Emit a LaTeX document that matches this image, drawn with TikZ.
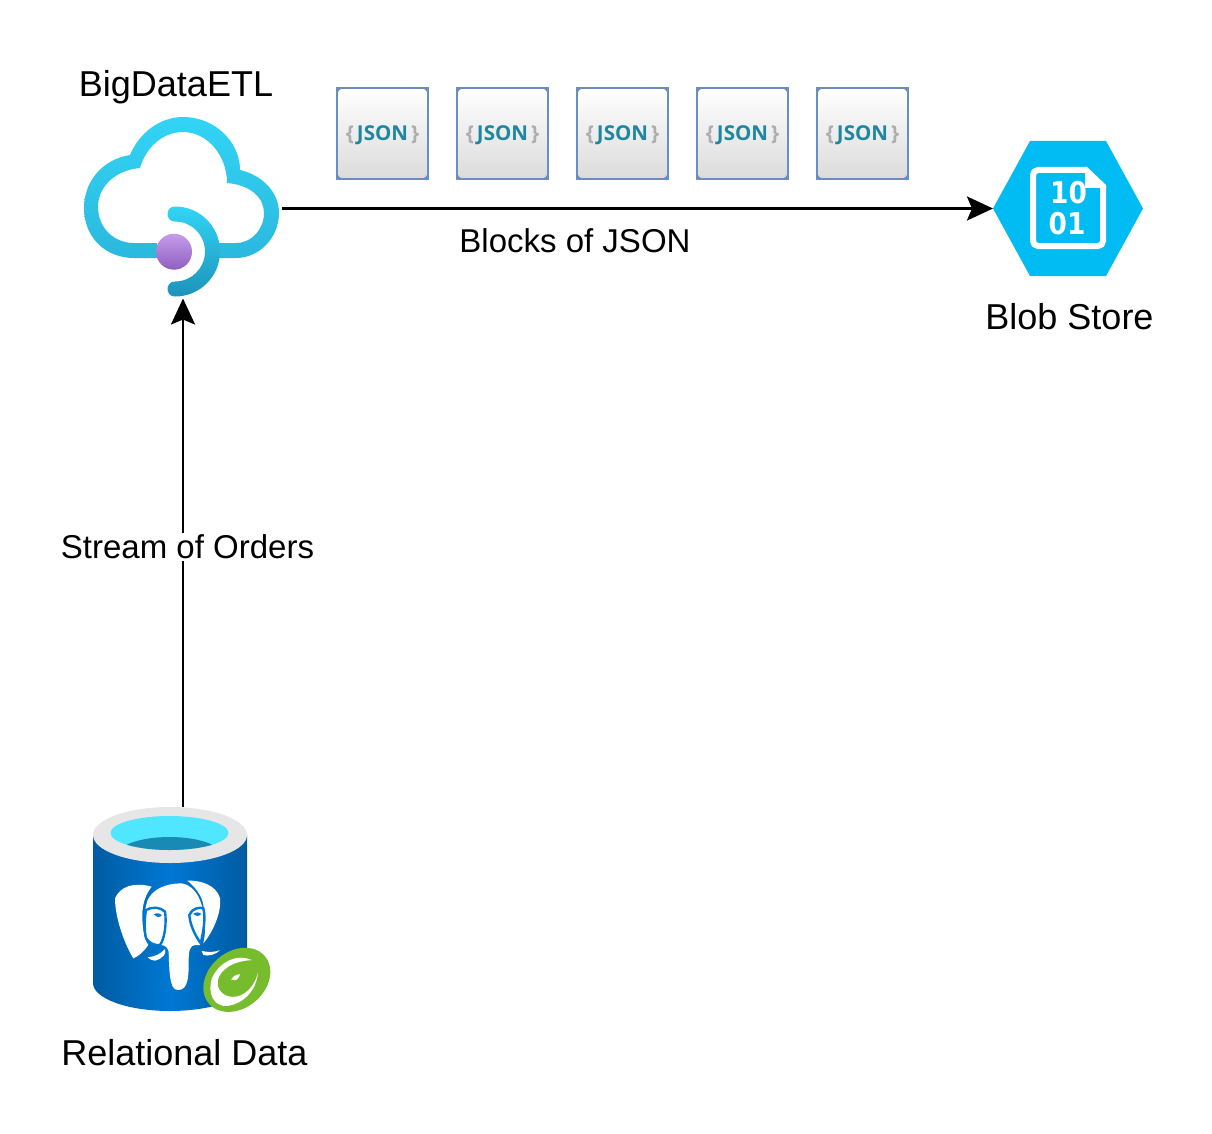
\documentclass[tikz,border=0pt]{standalone}
\usepackage{fontspec}
\setmainfont{Liberation Sans}
\newfontfamily\jsonfont{Open Sans}
\newfontfamily\bitsfont[FakeStretch=0.88]{DejaVu Sans}
\usepackage{xcolor}
\usetikzlibrary{positioning,arrows.meta}
\definecolor{cloudtop}{HTML}{32D4F5}
\definecolor{cloudmid}{HTML}{2BB8DE}
\definecolor{cloudend}{HTML}{1C93BA}
\definecolor{dotlight}{HTML}{C69DEB}
\definecolor{dotdark}{HTML}{8E5FBF}
\definecolor{jsonedge}{HTML}{6C8EBF}
\definecolor{jsonteal}{HTML}{1E86A0}
\definecolor{blobblue}{HTML}{00BCF2}
\definecolor{dbedge}{HTML}{005BA1}
\definecolor{dbmid}{HTML}{0078D4}
\definecolor{dbrim}{HTML}{E6E6E6}
\definecolor{dbwater}{HTML}{50E6FF}
\definecolor{dbdeep}{HTML}{198AB3}
\definecolor{badgegreen}{HTML}{76BC2D}
\tikzset{
  figlabel/.style={font=\fontsize{36}{42}\selectfont, inner sep=0pt},
  edgelabel/.style={font=\fontsize{33}{40}\selectfont, inner sep=0pt},
  iconbox/.style={inner sep=0pt, outer sep=0pt},
  jsonbox/.style={draw=jsonedge, fill=jsonedge, line width=1.5pt, minimum size=91pt,
    inner sep=0pt, font=\jsonfont\bfseries\fontsize{20.5}{24}\selectfont,
    path picture={\shade[top color=white, bottom color=black!14, rounded corners=8pt]
      (path picture bounding box.south west) rectangle (path picture bounding box.north east);}},
  flowarrow/.style={-{Stealth[length=26pt, width=24pt, inset=5pt]}, line width=2.7pt},
}
\newcommand{\jsontext}{\raisebox{-7.5pt}[0pt][0pt]{{\color{black!32}\{}\kern3pt{\color{jsonteal}JSON}\kern3pt{\color{black!32}\}}}}
\begin{document}
\begin{tikzpicture}[x=1pt, y=-1pt]
  \useasboundingbox (0,0) rectangle (1212,1134);

  % Main icon nodes
  \node[iconbox, minimum width=198pt, minimum height=180pt] (etl) at (183,208.5) {};
  \node[iconbox, minimum width=150pt, minimum height=135pt] (blob) at (1068,208.5) {};
  \node[iconbox, minimum width=154pt, minimum height=204pt] (db) at (170,909) {};

  % JSON blocks
  \node[jsonbox] (json1) at (382.5,133.5) {\jsontext};
  \node[jsonbox, right=27.5pt of json1] (json2) {\jsontext};
  \node[jsonbox, right=27.5pt of json2] (json3) {\jsontext};
  \node[jsonbox, right=27.5pt of json3] (json4) {\jsontext};
  \node[jsonbox, right=27.5pt of json4] (json5) {\jsontext};

  % Cloud
  \shade[top color=cloudtop, middle color=cloudtop, bottom color=cloudmid, even odd rule]
    (157,258) -- (134,258) .. controls (106,258) and (84,238) .. (84,208)
    .. controls (84,180) and (104,159) .. (130,155)
    .. controls (139,133) and (160,117) .. (183,117)
    .. controls (215,117) and (240,142) .. (240,170)
    .. controls (262,175) and (279,192) .. (279,213)
    .. controls (279,238) and (259,258) .. (236,258) -- (212,258) -- (212,243) -- (236,243)
    .. controls (252,243) and (264,229) .. (264,213)
    .. controls (264,198) and (251,185) .. (227,183)
    .. controls (227,155) and (207,132) .. (183,132)
    .. controls (163,132) and (146,147) .. (140,168)
    .. controls (116,170) and (98,186) .. (98,207)
    .. controls (98,227) and (113,243) .. (134,243) -- (157,243) -- cycle;
  \shade[top color=cloudtop, middle color=cloudmid, bottom color=cloudend]
    (175,206.5) .. controls (199.9,206.5) and (220,226.6) .. (220,251.5)
    .. controls (220,276.4) and (199.9,296.5) .. (175,296.5)
    .. controls (165,296.5) and (165,281.5) .. (175,281.5)
    .. controls (191.6,281.5) and (205,268.1) .. (205,251.5)
    .. controls (205,234.9) and (191.6,221.5) .. (175,221.5)
    .. controls (165,221.5) and (165,206.5) .. (175,206.5) -- cycle;
  \shade[top color=dotlight, middle color=dotlight, bottom color=dotdark] (174,251.7) circle[radius=18];

  % Blob store
  \fill[blobblue] (993,208.5) -- (1030,141) -- (1106,141) -- (1143,208.5) -- (1106,276) -- (1030,276) -- cycle;
  \draw[white, line width=6pt, rounded corners=5pt] (1087,170) -- (1033,170) -- (1033,246) -- (1103,246) -- (1103,186);
  \fill[white] (1085,167) -- (1087,167) -- (1106,185) -- (1106,188) -- (1085,188) -- cycle;
  \node[iconbox, white, font=\bitsfont\bfseries\fontsize{30}{30}\selectfont] (bits10) at (1068.5,192.5) {10};
  \node[iconbox, white, font=\bitsfont\bfseries\fontsize{30}{30}\selectfont] (bits01) at (1067,223.5) {01};

  % Database cylinder
  \shade[left color=dbedge, right color=dbedge, middle color=dbmid]
    (93,835) -- (93,983) .. controls (93,998.5) and (127.5,1011) .. (170,1011)
    .. controls (212.5,1011) and (247,998.5) .. (247,983) -- (247,835) -- cycle;
  \fill[dbrim] (170,835) ellipse[x radius=77, y radius=28];
  \fill[dbwater] (169.5,833) ellipse[x radius=59, y radius=17];
  \begin{scope}
    \clip (169.5,833) ellipse[x radius=59, y radius=17];
    \fill[dbdeep] (169.5,855) ellipse[x radius=52, y radius=18];
  \end{scope}

  % Elephant
  \begin{scope}[shift={(110,875)}, scale=1/3]
    \fill[white] (125,35) .. controls (70,20) and (30,35) .. (15,70)
      .. controls (15,130) and (45,210) .. (70,250) .. controls (85,245) and (105,225) .. (115,210)
      .. controls (100,190) and (97,150) .. (97,120) .. controls (97,90) and (105,60) .. (125,35) -- cycle;
    \fill[white] (232,17) .. controls (270,15) and (320,30) .. (330,70)
      .. controls (335,110) and (310,170) .. (280,205) .. controls (290,160) and (285,120) .. (280,90)
      .. controls (275,60) and (255,35) .. (232,17) -- cycle;
    \fill[white] (113,75) .. controls (130,40) and (170,25) .. (215,25)
      .. controls (245,30) and (265,55) .. (275,90) .. controls (290,130) and (285,170) .. (270,210)
      -- (255,210) .. controls (240,212) and (236,225) .. (236,260)
      .. controls (236,300) and (236,345) .. (205,345) .. controls (184,345) and (178,320) .. (176,230)
      .. controls (172,215) and (165,210) .. (150,210) .. controls (130,215) and (115,205) .. (105,170)
      .. controls (100,130) and (105,100) .. (113,75) -- cycle;
    \draw[dbmid, line width=2.4pt]
      (108,105) .. controls (125,95) and (150,95) .. (165,110) .. controls (170,140) and (165,190) .. (150,210)
      .. controls (135,212) and (118,205) .. (108,190) .. controls (103,170) and (103,130) .. (108,105) -- cycle;
    \draw[dbmid, line width=2.4pt]
      (238,120) .. controls (245,100) and (270,95) .. (280,100) .. controls (288,130) and (280,170) .. (272,205)
      .. controls (255,180) and (240,150) .. (238,120) -- cycle;
    \fill[dbmid] (132,118) .. controls (142,112) and (150,115) .. (156,120) .. controls (150,128) and (140,128) .. (132,118) -- cycle;
    \fill[dbmid] (250,116) .. controls (260,110) and (268,112) .. (274,116) .. controls (268,125) and (258,125) .. (250,116) -- cycle;
    \fill[white] (113,247) .. controls (135,245) and (155,235) .. (165,222)
      .. controls (170,235) and (160,250) .. (135,257) .. controls (125,257) and (118,252) .. (113,247) -- cycle;
    \fill[white] (275,228) .. controls (295,232) and (315,232) .. (330,225)
      .. controls (320,238) and (295,245) .. (280,240) -- cycle;
  \end{scope}

  % Green badge
  \begin{scope}[shift={(194.5,943.5)}, scale=1/3]
    \fill[badgegreen, rotate around={40:(127,109)}] (127,109) ellipse[x radius=110, y radius=85];
    \fill[white] (172,50) .. controls (125,28) and (72,58) .. (52,105)
      .. controls (38,150) and (58,192) .. (100,187) .. controls (145,182) and (187,140) .. (190,88)
      .. controls (180,130) and (150,160) .. (115,160) .. controls (88,160) and (66,140) .. (70,112)
      .. controls (74,82) and (112,52) .. (172,50) -- cycle;
    \fill[white] (110,108) .. controls (116,98) and (126,92) .. (136,92)
      .. controls (136,104) and (122,116) .. (110,108) -- cycle;
  \end{scope}

  % Labels
  \node[figlabel] (etllabel) at (176,87) {BigDataETL};
  \node[figlabel, below=27.5pt of blob, xshift=1.5pt] (bloblabel) {Blob Store};
  \node[figlabel] (dblabel) at (184.5,1053) {Relational Data};

  % Connectors
  \draw[flowarrow] (etl) -- (blob);
  \draw[flowarrow] (etl |- db.north) -- (etl.south);
  \node[edgelabel] (flowlabel) at (575,241) {Blocks of JSON};
  \node[edgelabel, fill=white, inner ysep=2pt] (streamlabel) at (187.5,547) {Stream of Orders};
\end{tikzpicture}
\end{document}
